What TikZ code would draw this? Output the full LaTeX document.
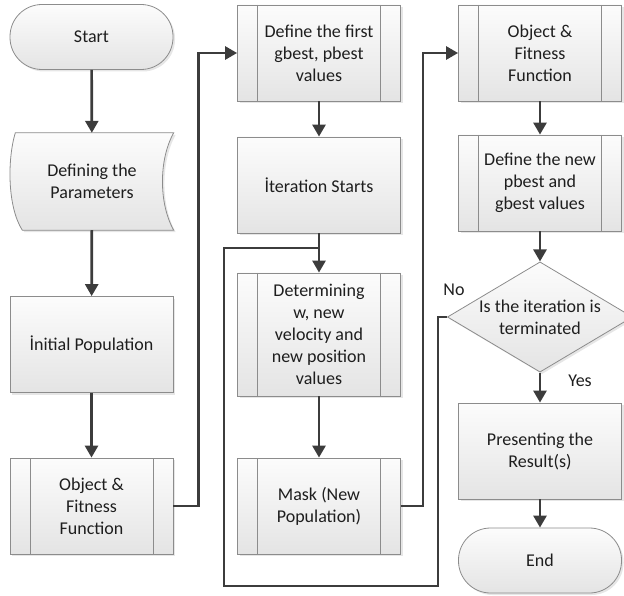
\documentclass[tikz,border=0pt]{standalone}
\usepackage{fontspec}
\setmainfont{Carlito}
\usetikzlibrary{arrows.meta,shapes.geometric,shadows,calc}

\definecolor{boxline}{HTML}{8C8C8C}
\definecolor{boxtop}{HTML}{FCFCFC}
\definecolor{boxbot}{HTML}{E4E4E4}
\definecolor{flowline}{HTML}{3C3C3C}
\definecolor{txt}{HTML}{1E1E1E}

\pgfdeclarelayer{background}
\pgfsetlayers{background,main}

\tikzset{
  box/.style={rectangle, draw=boxline, line width=0.8pt, top color=boxtop, bottom color=boxbot,
    minimum width=163pt, minimum height=96pt, align=center, text=txt,
    font=\fontsize{18}{22}\selectfont,
    drop shadow={shadow xshift=2pt, shadow yshift=-2pt, opacity=0.2}},
  subbox/.style={box, path picture={
    \draw[boxline, line width=0.8pt] ([xshift=20pt]path picture bounding box.north west) -- ([xshift=20pt]path picture bounding box.south west);
    \draw[boxline, line width=0.8pt] ([xshift=-20pt]path picture bounding box.north east) -- ([xshift=-20pt]path picture bounding box.south east);}},
  terminal/.style={box, rounded corners=32pt, minimum height=65pt},
  decision/.style={box, diamond, shape aspect=1.68, inner sep=1pt, minimum width=0pt, minimum height=0pt},
  flow/.style={draw=flowline, line width=2.7pt, -{Triangle[length=12pt,width=13pt]}},
  loopline/.style={draw=flowline, line width=2.6pt},
  lbl/.style={text=txt, font=\fontsize{18}{22}\selectfont}
}

\begin{document}
\begin{tikzpicture}[x=1pt,y=-1pt]
\useasboundingbox (0,0) rectangle (624,596);

% first column
\node[terminal] (start) at (91.5,37) {Start};
\node[lbl, minimum width=163pt, minimum height=97pt, align=center] (params) at (92,181.5) {Defining the\\Parameters};
\node[box] (init) at (91.5,344.5) {İnitial Population};
\node[subbox] (obj1) at (91.5,506) {Object \&\\Fitness\\Function};

\begin{pgfonlayer}{background}
\path[draw=boxline, line width=0.8pt, top color=boxtop, bottom color=boxbot,
      drop shadow={shadow xshift=2pt, shadow yshift=-2pt, opacity=0.2}]
  ($(params.north west)+(5,0)$) -- (params.north east)
  .. controls ($(params.east)+(-15,-22)$) and ($(params.east)+(-15,22)$) .. (params.south east)
  -- ($(params.south west)+(12,0)$)
  .. controls ($(params.west)+(-3,25)$) and ($(params.west)+(-3,-22)$) .. cycle;
\end{pgfonlayer}

% second column
\node[subbox] (def1) at (319,53) {Define the first\\gbest, pbest\\values};
\node[box] (iter) at (319,185) {İteration Starts};
\node[subbox, minimum height=123pt] (determ) at (319,334.5) {Determining\\w, new\\velocity and\\new position\\values};
\node[subbox] (mask) at (319,506) {Mask (New\\Population)};

% third column
\node[subbox] (obj2) at (540,53) {Object \&\\Fitness\\Function};
\node[subbox] (defnew) at (540,183) {Define the new\\pbest and\\gbest values};
\node[decision] (dec) at (540,317) {Is the iteration is\\terminated};
\node[box] (present) at (540,451) {Presenting the\\Result(s)};
\node[terminal] (end) at (540,560.5) {End};

\node[lbl] (no) at ($(dec.west)+(7,-27)$) {No};
\node[lbl] (yes) at ($(dec.south)+(40,8)$) {Yes};

\coordinate (join) at (319,248);
\coordinate (loopR) at (438,586);
\coordinate (loopL) at (224,586);

\path[flow] (start) -- (params);
\path[flow] (params) -- (init);
\path[flow] (init) -- (obj1);
\path[flow] (obj1.east) -- ++(25,0) |- (def1.west);
\path[flow] (def1) -- (iter);
\path[flow] (iter) -- (determ);
\path[flow] (determ) -- (mask);
\path[flow] (mask.east) -- ++(22,0) |- (obj2.west);
\path[flow] (obj2) -- (defnew);
\path[flow] (defnew) -- (dec);
\path[flow] (dec) -- (present);
\path[flow] (present) -- (end);

\path[loopline] (dec.west) -| (loopR) -- (loopL) |- (join);

\end{tikzpicture}
\end{document}
